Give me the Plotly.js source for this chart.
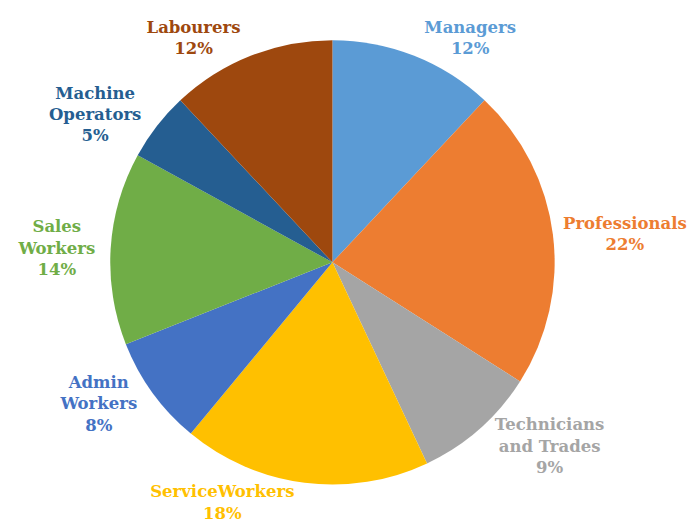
<!DOCTYPE html>
<html>
<head>
<meta charset="utf-8">
<script src="https://cdn.plot.ly/plotly-3.0.1.min.js"></script>
<style>
  html, body { margin: 0; padding: 0; background: #fff; }
  #chart { width: 689px; height: 530px; }
</style>
</head>
<body>
<div id="chart"></div>
<script>
var categories = ['Managers', 'Professionals', 'Technicians and Trades', 'ServiceWorkers',
    'Admin Workers', 'Sales Workers', 'Machine Operators', 'Labourers'];
var labelText = ['Managers', 'Professionals', 'Technicians<br>and Trades', 'ServiceWorkers',
    'Admin<br>Workers', 'Sales<br>Workers', 'Machine<br>Operators', 'Labourers'];
var shares = [12, 22, 9, 18, 8, 14, 5, 12];
var colors = ['#5B9BD5', '#ED7D31', '#A5A5A5', '#FFC000', '#4472C4', '#70AD47', '#255E91', '#9E480E'];

var texts = labelText.map(function (t, i) {
    return '<b>' + t + '<br>' + shares[i] + '%</b>';
});

var serif = 'DejaVu Serif';

var data = [{
    type: 'pie',
    labels: categories,
    values: shares,
    text: texts,
    textinfo: 'text',
    textposition: 'outside',
    sort: false,
    direction: 'clockwise',
    rotation: 0,
    marker: { colors: colors, line: { width: 0 } },
    textfont: { family: serif, size: 16.5, color: colors },
    outsidetextfont: { family: serif, size: 16.5, color: colors },
    domain: { x: [0.16, 0.805], y: [0.085, 0.925] },
    hoverinfo: 'none'
}];

var layout = {
    width: 689,
    height: 530,
    margin: { l: 0, r: 0, t: 0, b: 0 },
    font: { family: serif },
    showlegend: false,
    paper_bgcolor: '#fff'
};

Plotly.newPlot('chart', data, layout, { displayModeBar: false });
</script>
</body>
</html>
